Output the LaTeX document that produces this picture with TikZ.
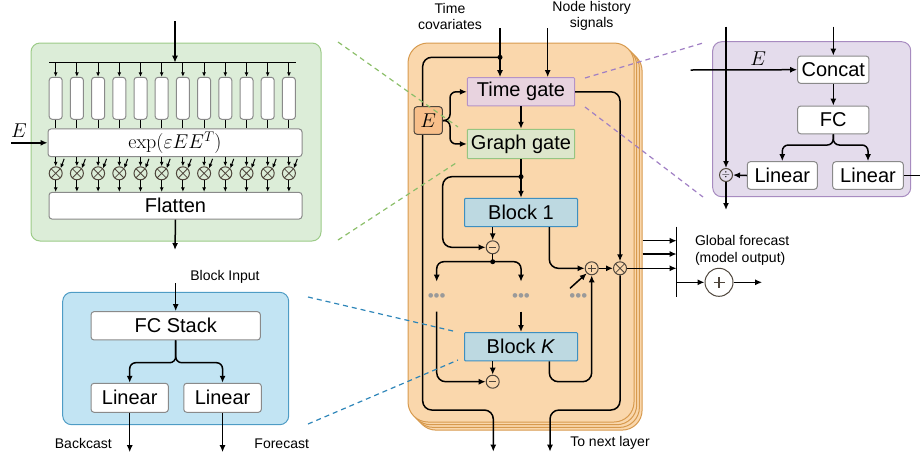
\documentclass[tikz,border=0pt]{standalone}
\usepackage{fix-cm}
\usepackage[no-math]{fontspec}
\setmainfont{Liberation Sans}
\usepackage{amsmath}
\usetikzlibrary{positioning, arrows.meta}
\NewDocumentCommand{\boxfont}{}{\fontsize{20}{22}\selectfont}
\NewDocumentCommand{\lblfont}{}{\fontsize{14}{16}\selectfont}
\definecolor{gpfill}{HTML}{DCEDD8}
\definecolor{gpdraw}{HTML}{9CCB88}
\definecolor{bpfill}{HTML}{C2E4F3}
\definecolor{bpdraw}{HTML}{4E9CC5}
\definecolor{ppfill}{HTML}{E4DCEC}
\definecolor{ppdraw}{HTML}{A78BC0}
\definecolor{orfill}{HTML}{FAD7AC}
\definecolor{ordraw}{HTML}{D79A4E}
\definecolor{tgfill}{HTML}{E8D3DF}
\definecolor{tgdraw}{HTML}{B593C7}
\definecolor{ggfill}{HTML}{DDE6CB}
\definecolor{ggdraw}{HTML}{96C582}
\definecolor{blkfill}{HTML}{BDD9E1}
\definecolor{blkdraw}{HTML}{3D8FC0}
\definecolor{ebfill}{HTML}{F8BF8A}
\definecolor{opdraw}{HTML}{4F463C}
\definecolor{boxgray}{HTML}{8A8A8A}
\definecolor{dotgray}{HTML}{9A9A9A}
\definecolor{gdash}{HTML}{8CBF6A}
\definecolor{bdash}{HTML}{2E86B9}
\definecolor{pdash}{HTML}{A07FC4}

\begin{document}
\begin{tikzpicture}[x=1pt, y=-1pt, line width=1.5pt, >={Latex[length=7pt,width=6pt]},
        wbox/.style = {draw=boxgray, fill=white, rounded corners=3pt, line width=1pt,
                        inner sep=0pt, font=\boxfont},
        gate/.style = {rounded corners=1pt, line width=1pt, inner sep=0pt, font=\boxfont,
                        minimum width=107.3, minimum height=28.3},
        blk/.style = {draw=blkdraw, fill=blkfill, rounded corners=1pt, line width=1pt,
                        inner sep=0pt, font=\boxfont, minimum width=113, minimum height=28.4},
        ebox/.style = {draw=opdraw, fill=ebfill, rounded corners=3pt, line width=1pt,
                        inner sep=0pt, minimum width=28.3, minimum height=27.6},
        op/.style = {circle, draw=opdraw, fill=orfill, line width=1pt, inner sep=0pt,
                        minimum size=13},
        times/.style = {path picture={\draw[line width=0.8pt]
                        (path picture bounding box.north west) -- (path picture bounding box.south east)
                        (path picture bounding box.south west) -- (path picture bounding box.north east);}},
        plus/.style = {path picture={\draw[line width=#1/4]
                        ([xshift=-#1]path picture bounding box.center) -- ([xshift=#1]path picture bounding box.center)
                        ([yshift=-#1]path picture bounding box.center) -- ([yshift=#1]path picture bounding box.center);}},
        minus/.style = {path picture={\draw[line width=1pt]
                        ([xshift=-3.5pt]path picture bounding box.center) -- ([xshift=3.5pt]path picture bounding box.center);}},
        small/.style = {line width=1pt, >={Latex[length=4.5pt,width=4pt]}},
        lbl/.style = {font=\lblfont, inner sep=0pt},
        dots/.style = {text=dotgray, font=\fontsize{17}{17}\selectfont, inner sep=0pt},
        panel/.style = {line width=1pt, rounded corners=9pt},
        stack/.style = {draw=ordraw, fill=orfill, line width=1pt, rounded corners=20pt},
        zoomline/.style = {line width=1.2pt, dash pattern=on 5pt off 4pt}]
        \useasboundingbox (0,0) rectangle (920,459);

        \draw[panel, draw=gpdraw, fill=gpfill] (31,43) rectangle (321,241);
        \coordinate (gin) at (175,21);
        \coordinate (bus) at (175,62.7);
        \draw[small] (49,62.7) -- (296,62.7);
        \draw[->] (gin) -- (bus);
        \node[wbox, minimum width=254, minimum height=27.7] (exp) at (175,142.8)
                {\fontsize{20}{22}\selectfont $\exp(\varepsilon EE^T)$};
        \node[wbox, minimum width=253, minimum height=26.7] (flat) at (175.5,205.7) {Flatten};
        \foreach \i in {0,...,11} {
                \pgfmathsetmacro{\xc}{55.7+21.2*\i}
                \node[wbox, minimum width=13, minimum height=42] (r\i) at (\xc,98.3) {};
                \node[op, times, fill=none] (m\i) at (\xc,173.3) {};
                \draw[small, ->] (r\i |- bus) -- (r\i.north);
                \draw[small] (r\i.south) -- (r\i |- exp.north);
                \draw[small, ->] (m\i |- exp.south) -- (m\i.north);
                \draw[small, ->] ([shift={(3.5,-9.5)}]m\i.north east) -- (m\i.north east);
                \draw[small, ->] (m\i.south) -- (m\i |- flat.north);
        }
        \node[font=\fontsize{20}{22}\selectfont, inner sep=0pt] (eg) at (19,131) {$E$};
        \coordinate (egin) at (11,142.8);
        \draw[->] (egin) -- (exp.west);
        \coordinate (gout) at (175,250);
        \draw[->] (flat.south) -- (gout);

        \draw[panel, draw=bpdraw, fill=bpfill] (62.7,292.3) rectangle (288.7,424.7);
        \node[lbl] (bin) at (225,276.7) {Block Input};
        \coordinate (bintop) at (175.7,283);
        \node[wbox, minimum width=169.3, minimum height=28.3] (fcs) at (175.7,325.8) {FC Stack};
        \node[wbox, minimum width=77.3, minimum height=29] (lin1) at (129.7,397.8) {Linear};
        \node[wbox, minimum width=77.6, minimum height=29] (lin2) [right=14.4pt of lin1] {Linear};
        \coordinate (fcsplit) at (175.7,362.7);
        \draw[->] (bintop) -- (fcs.north);
        \draw[->, rounded corners=6pt] (fcs.south) -- (fcsplit) -| (lin1.north);
        \draw[->, rounded corners=6pt] (fcs.south) -- (fcsplit) -| (lin2.north);
        \draw[->] (lin1.south) -- ++(0,39.4) coordinate (bcout);
        \draw[->] (lin2.south) -- ++(0,39.4) coordinate (fcout);
        \node[lbl] (bcast) at (83.3,443.3) {Backcast};
        \node[lbl] (fcast) at (281.7,443.3) {Forecast};

        \foreach \k in {3,2,1}
                \draw[stack] (408+2.7*\k,43+2.7*\k) rectangle (634+2.7*\k,422+2.7*\k);
        \draw[stack] (408,43) rectangle (634,422);
        \node[lbl, align=center, font=\fontsize{14}{16}\selectfont] (tcov) at (450,16) {Time\\covariates};
        \node[lbl, align=center, font=\fontsize{14}{16}\selectfont] (nhs) at (591.7,16) {Node history\\signals};
        \coordinate (tcin) at (500,28);
        \coordinate (tcdot) at (500,57.3);
        \coordinate (tcout) at (493.3,451.7);
        \draw[->, rounded corners=9pt] (tcdot) -- (422.7,57.3) -- (422.7,410) -- (493.3,410) -- (tcout);
        \node[gate, draw=tgdraw, fill=tgfill] (tg) at (521,91.8) {Time gate};
        \node[gate, draw=ggdraw, fill=ggfill, minimum height=29.4] (gg) [below=22.3pt of tg] {Graph gate};
        \node[ebox] (eb) at (428.2,120.5) {\fontsize{20}{22}\selectfont $E$};
        \node[blk] (b1) at (521,212.5) {Block 1};
        \node[blk] (bk) at (521,346.7) {Block \textit{K}};
        \node[op, minus] (s1) at (492.7,247.3) {};
        \node[op, minus] (s2) at (492.7,381.7) {};
        \node[op, plus=3.8pt] (pl) at (591.7,268.3) {};
        \node[op, times] (ot) at (620,268.3) {};
        \node[dots] (d1) at (436.7,297.7) {\textbullet\textbullet\textbullet};
        \node[dots] (d2) at (521,297.7) {\textbullet\textbullet\textbullet};
        \node[dots] (d3) at (578.3,297.7) {\textbullet\textbullet\textbullet};

        \draw[->] (tcin) -- (tcin |- tg.north);
        \fill (tcdot) circle (2.5pt);
        \coordinate (nhin) at (547.7,28);
        \draw[->] (nhin) -- (nhin |- tg.north);
        \coordinate (esplit) at (450,120.5);
        \draw[->, rounded corners=6pt] (eb.east) -- (esplit) |- (tg.west);
        \draw[->, rounded corners=6pt] (eb.east) -- (esplit) |- (gg.west);
        \draw[->] (tg.south) -- (gg.north);
        \coordinate (ggdot) at (521,176.7);
        \draw (gg.south) -- (ggdot);
        \draw[->] (ggdot) -- (b1.north);
        \fill (ggdot) circle (2.5pt);
        \draw[->, rounded corners=9pt] (ggdot) -| (442.7,247.3) -- (s1.west);
        \draw[->] (b1.south -| s1) -- (s1.north);
        \coordinate (s1dot) at (492.7,261.7);
        \draw (s1.south) -- (s1dot);
        \fill (s1dot) circle (2.5pt);
        \coordinate (l1) at (436.7,281.7);
        \coordinate (m1) at (521,281.7);
        \draw[->, rounded corners=7pt] (s1dot) -| (l1);
        \draw[->, rounded corners=7pt] (s1dot) -| (m1);
        \coordinate (l2) at (436.7,311.7);
        \coordinate (m2) at (521,311.7);
        \draw[->, rounded corners=9pt] (l2) |- (s2.west);
        \draw[->] (m2) -- (bk.north);
        \draw[->] (bk.south -| s2) -- (s2.north);
        \coordinate (xr) at (549.3,0);
        \draw[->, rounded corners=9pt] (b1.south -| xr) |- (pl.west);
        \draw[->, rounded corners=9pt] (bk.south -| xr) |- (591.7,381.7) -- (pl.south);
        \coordinate (dg) at (570,288.3);
        \draw[->] (dg) -- (pl.south west);
        \draw[->] (pl.east) -- (ot.west);
        \draw[->, rounded corners=9pt] (tg.east) -| (ot.north);
        \coordinate (nxt) at (550,451.7);
        \draw[->, rounded corners=9pt] (ot.south) -- (620,410) -| (nxt);
        \node[lbl] (tnl) at (610,443.3) {To next layer};

        \coordinate (busT) at (676.7,226.7);
        \coordinate (busB) at (676.7,296.7);
        \draw (busT) -- (busB);
        \coordinate (o1) at (642.7,240.7);
        \coordinate (o2) at (642.7,254);
        \draw[->] (o1) -- (o1 -| busT);
        \draw[->] (o2) -- (o2 -| busT);
        \draw[->] (ot.east) -- (ot.east -| busT);
        \node[op, plus=5.5pt, fill=none, minimum size=28] (gp) at (719,282.3) {};
        \draw[->] (gp.west -| busT) -- (gp.west);
        \draw[->] (gp.east) -- ++(28.7,0) coordinate (gpout);
        \node[lbl, align=left, anchor=west, font=\fontsize{14}{17.3}\selectfont] (glob) at (694.3,250.3)
                {Global forecast\\(model output)};

        \draw[panel, draw=ppdraw, fill=ppfill] (712.7,41.7) rectangle (910.7,196.7);
        \node[font=\fontsize{20}{22}\selectfont, inner sep=0pt] (pe) at (758.3,58.3) {$E$};
        \node[op, fill=none] (dv) at (726,175) {\fontsize{11}{11}\selectfont$\div$};
        \coordinate (pvtop) at (726,26.7);
        \coordinate (pvout) at (726,210);
        \draw[->] (pvtop) -- (dv.north);
        \draw[->] (dv.south) -- (pvout);
        \node[wbox, minimum width=71.3, minimum height=27.3] (cc) at (833.3,69.7) {Concat};
        \node[wbox, minimum width=71.3, minimum height=27.7] (fc) [below=21.7pt of cc] {FC};
        \node[wbox, minimum width=70, minimum height=27.6] (pl1) at (782.3,175.5) {Linear};
        \node[wbox, minimum width=70.6, minimum height=27.6] (pl2) [right=14.4pt of pl1] {Linear};
        \coordinate (phin) at (690.7,70);
        \coordinate (pctop) at (833.3,26.7);
        \draw[->] (phin) -- (cc.west);
        \draw[->] (pctop) -- (cc.north);
        \draw[->] (cc.south) -- (fc.north);
        \coordinate (fcsp) at (833.3,145);
        \draw[->, rounded corners=6pt] (fc.south) -- (fcsp) -| (pl1.north);
        \draw[->, rounded corners=6pt] (fc.south) -- (fcsp) -| (pl2.north);
        \draw[->] (pl1.west) -- (dv.east);
        \coordinate (pout) at (920,175.5);
        \draw (pl2.east) -- (pout);

        \draw[zoomline, draw=gdash] (338,42) -- (458,127);
        \draw[zoomline, draw=gdash] (338,240) -- (456,163);
        \draw[zoomline, draw=bdash] (308,297) -- (453,331);
        \draw[zoomline, draw=bdash] (308,424) -- (458,360);
        \draw[zoomline, draw=pdash] (585,78) -- (703,43);
        \draw[zoomline, draw=pdash] (585,107) -- (703,197);
    \end{tikzpicture}
\end{document}
